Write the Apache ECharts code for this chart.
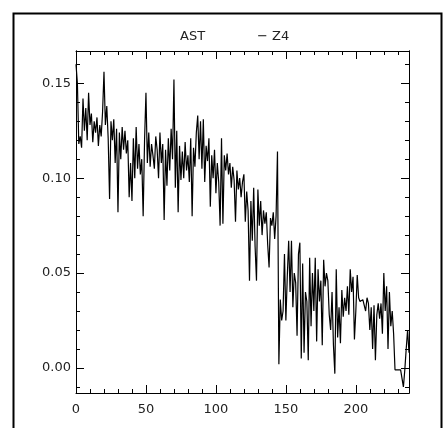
<!DOCTYPE html>
<html>
<head>
<meta charset="utf-8">
<script src="https://cdn.jsdelivr.net/npm/echarts@6/dist/echarts.min.js"></script>
<style>html,body{margin:0;padding:0;background:#fff}#c{width:444px;height:428px}</style>
</head>
<body>
<div id="c"></div>
<script>
var titleLeft = 'AST';
var titleRight = '\u2212 Z4';
var xTickLabels = [0, 50, 100, 150, 200];
var yTickLabels = [0.00, 0.05, 0.10, 0.15];
var yMinorTicks = [-0.01,0.00,0.01,0.02,0.03,0.04,0.05,0.06,0.07,0.08,0.09,0.10,0.11,0.12,0.13,0.14,0.15,0.16];
var values = [
0.160,0.150,0.118,0.122,0.116,0.142,0.125,0.137,0.120,0.145,
0.128,0.134,0.119,0.130,0.124,0.132,0.117,0.128,0.122,0.135,
0.156,0.128,0.138,0.121,0.089,0.130,0.120,0.131,0.108,0.126,
0.082,0.124,0.110,0.127,0.115,0.125,0.113,0.120,0.090,0.108,
0.088,0.121,0.100,0.127,0.105,0.118,0.102,0.110,0.080,0.120,
0.145,0.108,0.124,0.106,0.118,0.112,0.105,0.122,0.115,0.100,
0.124,0.108,0.118,0.078,0.115,0.096,0.121,0.104,0.126,0.110,
0.152,0.095,0.125,0.082,0.117,0.099,0.114,0.100,0.119,0.104,
0.112,0.098,0.121,0.080,0.116,0.106,0.124,0.133,0.110,0.130,
0.105,0.131,0.098,0.117,0.109,0.121,0.085,0.112,0.100,0.115,
0.092,0.108,0.098,0.075,0.121,0.076,0.112,0.104,0.113,0.102,
0.108,0.095,0.106,0.099,0.077,0.104,0.094,0.100,0.090,0.098,
0.102,0.077,0.093,0.083,0.046,0.088,0.067,0.095,0.064,0.046,
0.094,0.075,0.088,0.070,0.083,0.076,0.082,0.065,0.053,0.079,
0.075,0.082,0.068,0.080,0.114,0.002,0.036,0.025,0.030,0.060,
0.025,0.048,0.067,0.040,0.067,0.032,0.050,0.045,0.017,0.060,
0.066,0.005,0.055,0.008,0.040,0.035,0.004,0.058,0.022,0.050,
0.030,0.058,0.014,0.052,0.035,0.046,0.012,0.057,0.043,0.050,
0.046,0.028,0.020,0.040,0.012,-0.003,0.052,0.016,0.032,0.013,
0.041,0.027,0.037,0.030,0.043,0.028,0.052,0.040,0.048,0.015,
0.030,0.049,0.037,0.035,0.034,0.036,0.035,0.030,0.037,0.034,
0.020,0.032,0.010,0.033,0.004,0.028,0.034,0.026,0.034,0.018,
0.050,0.030,0.043,0.010,0.040,0.022,0.030,0.018,-0.001,-0.001,
-0.001,-0.001,-0.001,-0.002,-0.010,-0.001,0.010,0.020,0.008
];
var xMin = 0, xMax = 238, yMin = -0.0132, yMax = 0.167;

var seriesData = values.map(function(v,i){return [i,v];});
var lineStyleAxis = {color:'#000', width:1};
var font = {fontFamily:'DejaVu Sans', fontSize:13, color:'#222'};

function yAx(pos, major, labels){
  return {
    type:'value', position:pos, min:yMin, max:yMax,
    axisLine:{show:true, onZero:false, lineStyle:lineStyleAxis},
    axisTick:{show:true, inside:true, length: major?8:4, lineStyle:lineStyleAxis,
      customValues: major ? yTickLabels : yMinorTicks},
    axisLabel:labels ? Object.assign({show:true, margin:5, customValues:yTickLabels,
      formatter:function(v){return v.toFixed(2);}}, font) : {show:false},
    splitLine:{show:false}
  };
}
function xAx(pos, labels){
  return {
    type:'value', position:pos, min:xMin, max:xMax, interval:50,
    axisLine:{show:true, onZero:false, lineStyle:lineStyleAxis},
    axisTick:{show:true, inside:true, length:8, lineStyle:lineStyleAxis},
    minorTick:{show:true, splitNumber:5, length:4, lineStyle:lineStyleAxis},
    axisLabel:labels ? Object.assign({show:true, margin:10, showMaxLabel:false}, font) : {show:false},
    splitLine:{show:false}
  };
}

var chart = echarts.init(document.getElementById('c'), null, {renderer:'canvas'});
chart.setOption({
  animation:false,
  backgroundColor:'#fff',
  grid:{left:76, right:35, top:51, bottom:35, containLabel:false},
  xAxis:[xAx('bottom', true), xAx('top', false)],
  yAxis:[yAx('left', true, true), yAx('left', false, false), yAx('right', true, false), yAx('right', false, false)],
  series:[{
    type:'line', data:seriesData, xAxisIndex:0, yAxisIndex:0,
    showSymbol:false, symbol:'none',
    lineStyle:{color:'#000', width:1.2}
  }],
  graphic:[
    {type:'rect', left:11, top:11, shape:{x:0,y:0,width:428,height:430},
     style:{fill:'none', stroke:'#000', lineWidth:2}, silent:true},
    {type:'text', left:180, top:30, style:{text:titleLeft, font:'13px "DejaVu Sans"', fill:'#222'}},
    {type:'text', left:257, top:30, style:{text:titleRight, font:'13px "DejaVu Sans"', fill:'#222'}}
  ]
});
</script>
</body>
</html>
